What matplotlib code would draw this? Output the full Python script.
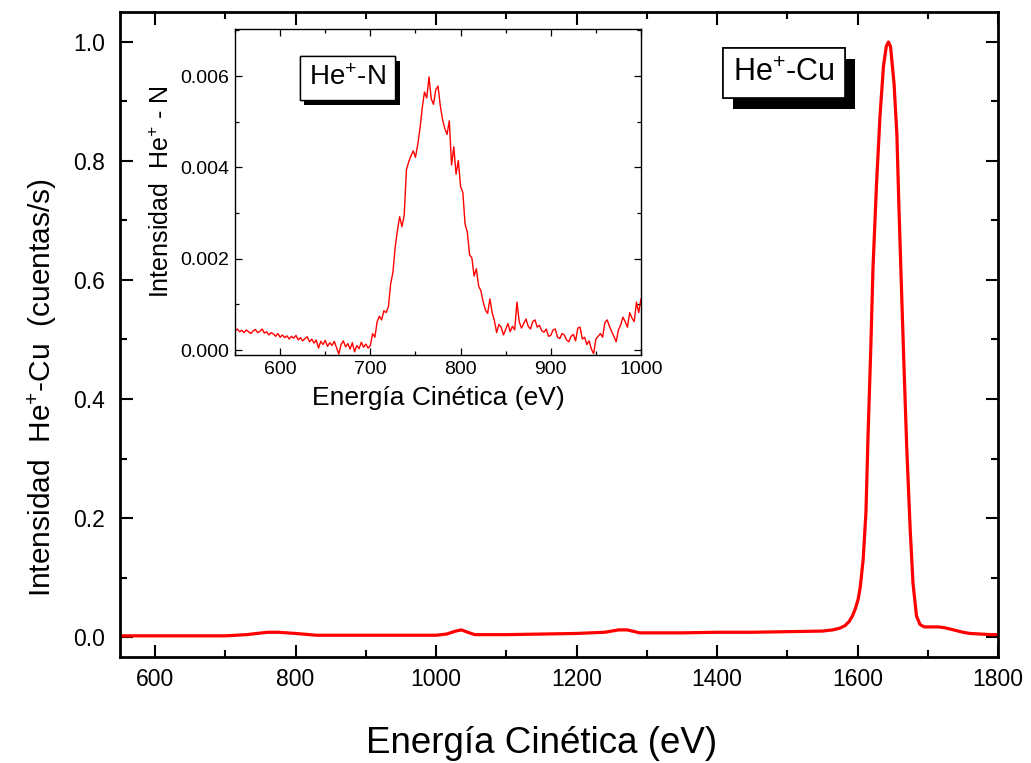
import numpy as np
import matplotlib
matplotlib.use("Agg")
import matplotlib.pyplot as plt
from matplotlib.ticker import MultipleLocator, FormatStrFormatter
from matplotlib import patheffects

plt.rcParams["font.family"] = ["Liberation Sans", "DejaVu Sans"]
plt.rcParams["mathtext.default"] = "regular"

# He+ scattered from Cu: kinetic energy (eV) and intensity (counts/s)
cu_energy = [550, 600, 650, 700, 730, 760, 775, 800, 830, 900, 1000, 1015,
             1028, 1036, 1045, 1055, 1100, 1200, 1240, 1260, 1272, 1290,
             1350, 1400, 1450, 1500, 1550, 1565, 1575, 1582, 1588, 1593,
             1597, 1601, 1604, 1608, 1612, 1615, 1619, 1622, 1627, 1632,
             1637, 1641, 1644, 1647, 1652, 1656, 1659, 1663, 1666, 1670,
             1675, 1679, 1684, 1689, 1695, 1705, 1715, 1722, 1730, 1740,
             1750, 1760, 1775, 1790, 1800]
cu_counts = [0.002, 0.002, 0.002, 0.002, 0.004, 0.008, 0.008, 0.006, 0.003,
             0.003, 0.003, 0.005, 0.010, 0.012, 0.008, 0.004, 0.004, 0.006,
             0.008, 0.012, 0.012, 0.007, 0.007, 0.008, 0.008, 0.009, 0.010,
             0.012, 0.015, 0.019, 0.026, 0.036, 0.048, 0.064, 0.085, 0.13,
             0.21, 0.34, 0.49, 0.62, 0.76, 0.876, 0.96, 0.993, 1.0, 0.992,
             0.93, 0.845, 0.72, 0.57, 0.46, 0.32, 0.18, 0.09, 0.035, 0.021,
             0.017, 0.017, 0.017, 0.016, 0.014, 0.011, 0.008, 0.006, 0.005,
             0.004, 0.004]

# He+ scattered from N: 2.5 eV steps from 550 to 1000 eV, intensity in 1e-3 units
n_energy = np.arange(550, 1000.01, 2.5)
n_counts_milli = [
    0.42, 0.46, 0.40, 0.43, 0.38, 0.44, 0.40, 0.36, 0.42, 0.45,
    0.38, 0.41, 0.46, 0.37, 0.40, 0.33, 0.38, 0.35, 0.30, 0.36,
    0.28, 0.33, 0.27, 0.31, 0.24, 0.30, 0.26, 0.32, 0.22, 0.27,
    0.20, 0.25, 0.29, 0.18, 0.24, 0.15, 0.22, 0.04, 0.19, 0.12,
    0.21, 0.08, 0.16, 0.10, 0.19, 0.05, -0.09, 0.12, 0.20, 0.07,
    0.14, 0.02, 0.16, -0.04, 0.10, 0.03, 0.17, 0.06, 0.13, 0.04,
    0.10, 0.36, 0.28, 0.62, 0.74, 0.66, 0.86, 0.82, 0.95, 1.45,
    1.70, 2.25, 2.62, 2.92, 2.70, 2.95, 3.95, 4.12, 4.25, 4.36,
    4.22, 4.50, 4.85, 5.30, 5.65, 5.52, 5.98, 5.50, 5.38, 5.70,
    5.78, 5.35, 5.05, 4.85, 4.72, 5.02, 4.05, 4.45, 3.85, 4.15,
    3.58, 3.45, 2.76, 2.58, 2.08, 2.02, 1.62, 1.78, 1.40, 1.30,
    1.06, 0.88, 0.80, 1.12, 0.82, 0.64, 0.38, 0.56, 0.50, 0.33,
    0.45, 0.58, 0.40, 0.52, 0.44, 1.05, 0.62, 0.48, 0.58, 0.68,
    0.52, 0.46, 0.62, 0.66, 0.50, 0.54, 0.42, 0.39, 0.46, 0.30,
    0.32, 0.44, 0.46, 0.28, 0.25, 0.36, 0.33, 0.22, 0.18, 0.30,
    0.34, 0.20, 0.48, 0.50, 0.24, 0.28, 0.12, 0.20, 0.02, -0.08,
    0.24, 0.30, 0.36, 0.28, 0.60, 0.66, 0.52, 0.40, 0.30, 0.18,
    0.44, 0.55, 0.72, 0.62, 0.50, 0.82, 0.70, 0.62, 1.05, 0.82,
    1.12,
]
n_counts = np.array(n_counts_milli) * 1e-3

fig = plt.figure(figsize=(10.31, 7.63), dpi=100)

# ---- main panel ----
ax = fig.add_axes([0.1164, 0.1389, 0.8516, 0.8454])
ax.plot(cu_energy, cu_counts, color="#ff0000", lw=2.3, solid_joinstyle="round")
ax.set_xlim(550, 1800)
ax.set_ylim(-0.0336, 1.0504)
ax.xaxis.set_major_locator(MultipleLocator(200))
ax.xaxis.set_minor_locator(MultipleLocator(100))
ax.yaxis.set_major_locator(MultipleLocator(0.2))
ax.yaxis.set_minor_locator(MultipleLocator(0.1))
ax.yaxis.set_major_formatter(FormatStrFormatter("%.1f"))
ax.tick_params(which="both", direction="in", top=True, right=True,
               width=1.5, labelsize=16.5)
ax.tick_params(axis="y", pad=11)
ax.tick_params(axis="x", pad=8)
ax.tick_params(which="major", length=9)
ax.tick_params(which="minor", length=5)
for sp in ax.spines.values():
    sp.set_linewidth(2)
ax.set_xlabel("Energía Cinética (eV)", fontsize=26.5)
ax.xaxis.set_label_coords(0.48, -0.107)
ax.set_ylabel("Intensidad  He$^{+}$-Cu  (cuentas/s)", fontsize=21.5)
ax.yaxis.set_label_coords(-0.07, 0.417)

t_cu = ax.text(0.756, 0.905, "He$^{+}$-Cu", transform=ax.transAxes,
               ha="center", va="center", fontsize=22,
               bbox=dict(boxstyle="square,pad=0.33", fc="white", ec="black", lw=1.2))
t_cu.get_bbox_patch().set_path_effects([
    patheffects.withSimplePatchShadow(offset=(7.5, -7.5), shadow_rgbFace="black", alpha=1.0),
    patheffects.Normal()])

# ---- inset panel ----
ins = fig.add_axes([0.228, 0.5347, 0.3937, 0.4273])
ins.plot(n_energy, n_counts, color="#ff0000", lw=1.0)
ins.set_xlim(550, 1000)
ins.set_ylim(-0.00011, 0.00703)
ins.xaxis.set_major_locator(MultipleLocator(100))
ins.xaxis.set_minor_locator(MultipleLocator(50))
ins.yaxis.set_major_locator(MultipleLocator(0.002))
ins.yaxis.set_minor_locator(MultipleLocator(0.001))
ins.yaxis.set_major_formatter(FormatStrFormatter("%.3f"))
ins.tick_params(which="both", direction="in", top=True, right=True,
                width=0.9, labelsize=14, pad=4)
ins.tick_params(which="major", length=5)
ins.tick_params(which="minor", length=3)
for sp in ins.spines.values():
    sp.set_linewidth(1.0)
ins.set_xlabel("Energía Cinética (eV)", fontsize=19, labelpad=6)
ins.set_ylabel("Intensidad  He$^{+}$ - N", fontsize=18, labelpad=5)

t_n = ins.text(0.276, 0.85, "He$^{+}$-N", transform=ins.transAxes,
               ha="center", va="center", fontsize=20,
               bbox=dict(boxstyle="square,pad=0.33", fc="white", ec="black", lw=1.0))
t_n.get_bbox_patch().set_path_effects([
    patheffects.withSimplePatchShadow(offset=(3.5, -3.5), shadow_rgbFace="black", alpha=1.0),
    patheffects.Normal()])

fig.savefig("out.png", dpi=100)
